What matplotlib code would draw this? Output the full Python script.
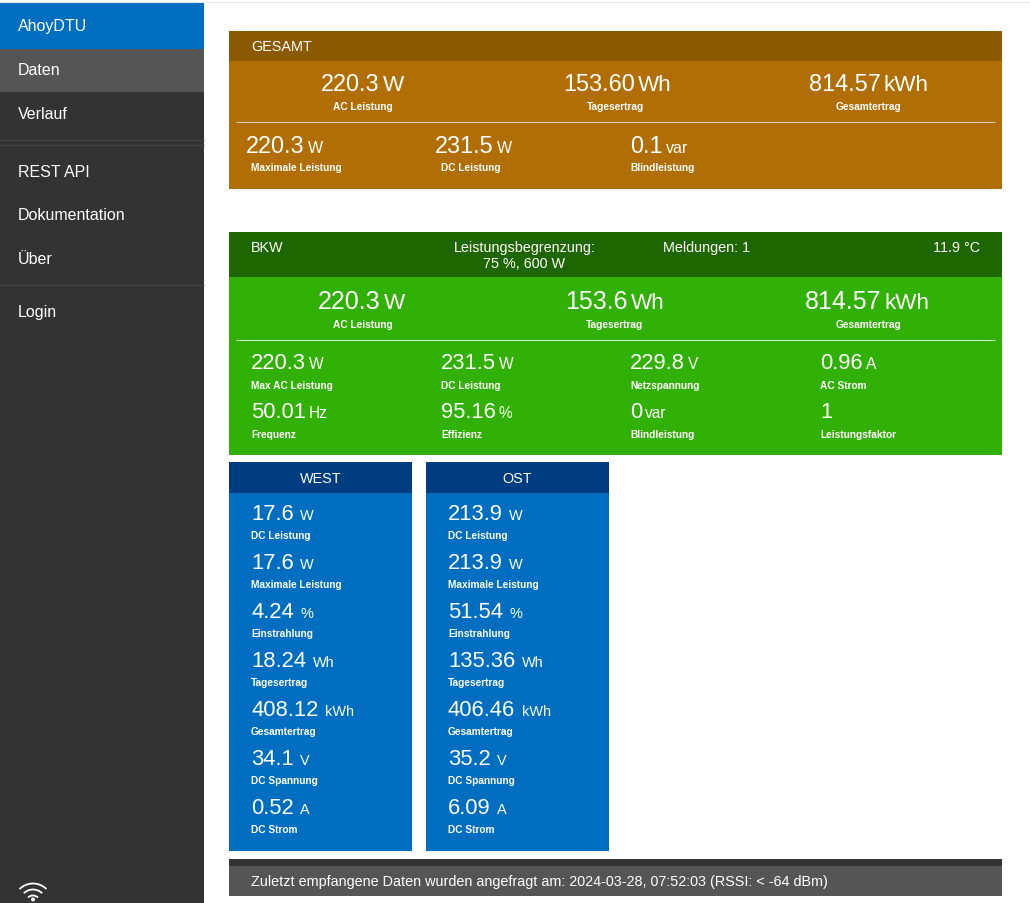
import matplotlib
matplotlib.use('Agg')
import matplotlib.pyplot as plt
from matplotlib.patches import Rectangle, Arc, Circle

plt.rcParams['font.family'] = ['Liberation Sans', 'DejaVu Sans']

nav_items = ['AhoyDTU', 'Daten', 'Verlauf', 'REST API', 'Dokumentation', 'Über', 'Login']

total_main_values = ['220.3', '153.60', '814.57']
total_main_units = ['W', 'Wh', 'kWh']
total_main_labels = ['AC Leistung', 'Tagesertrag', 'Gesamtertrag']
total_sub_values = ['220.3', '231.5', '0.1']
total_sub_units = ['W', 'W', 'var']
total_sub_labels = ['Maximale Leistung', 'DC Leistung', 'Blindleistung']

inv_main_values = ['220.3', '153.6', '814.57']
inv_main_units = ['W', 'Wh', 'kWh']
inv_sub_values = ['220.3', '231.5', '229.8', '0.96', '50.01', '95.16', '0', '1']
inv_sub_units = ['W', 'W', 'V', 'A', 'Hz', '%', 'var', '']
inv_sub_labels = ['Max AC Leistung', 'DC Leistung', 'Netzspannung', 'AC Strom',
                  'Frequenz', 'Effizienz', 'Blindleistung', 'Leistungsfaktor']

string_labels = ['DC Leistung', 'Maximale Leistung', 'Einstrahlung', 'Tagesertrag',
                 'Gesamtertrag', 'DC Spannung', 'DC Strom']
string_units = ['W', 'W', '%', 'Wh', 'kWh', 'V', 'A']
west_values = ['17.6', '17.6', '4.24', '18.24', '408.12', '34.1', '0.52']
ost_values = ['213.9', '213.9', '51.54', '135.36', '406.46', '35.2', '6.09']

footer_text = 'Zuletzt empfangene Daten wurden angefragt am: 2024-03-28, 07:52:03 (RSSI: < -64 dBm)'

WHITE = '#ffffff'
DARK = '#333333'
GREY = '#555555'
BLUE = '#006ec0'
DARK_BLUE = '#003c80'
ORANGE = '#b06e04'
DARK_ORANGE = '#8b5a00'
GREEN = '#31b105'
DARK_GREEN = '#1d6600'

HEAD = 14.35

fig = plt.figure(figsize=(10.3, 9.04), dpi=100)
ax = fig.add_axes([0, 0, 1, 1])
ax.set_xlim(0, 1030)
ax.set_ylim(904, 0)
ax.axis('off')
renderer = fig.canvas.get_renderer()


def px(size):
    # css pixels to points
    return size * 72 / 100


def box(x0, y0, x1, y1, color):
    # rectangles snap one pixel high otherwise
    ax.add_patch(Rectangle((x0, y0 + 1), x1 - x0, y1 - y0, facecolor=color, edgecolor='none'))


def hline(x0, x1, y, color):
    ax.plot([x0, x1], [y, y], color=color, lw=0.75, solid_capstyle='butt')


def label(x, y, text, size=10.1, ha='left', weight='bold'):
    ax.text(x, y, text, color=WHITE, fontsize=px(size), ha=ha, va='baseline', fontweight=weight)


def width_of(text, size):
    t = ax.text(0, 0, text, fontsize=px(size))
    w = t.get_window_extent(renderer).width
    t.remove()
    return w


def value_unit(x, y, value, unit, size, unit_size, gap, center=False):
    vw = width_of(value, size)
    if center:
        x = x - (vw + gap + width_of(unit, unit_size)) / 2
    ax.text(x, y, value, color=WHITE, fontsize=px(size), ha='left', va='baseline')
    if unit:
        ax.text(x + vw + gap, y, unit, color=WHITE, fontsize=px(unit_size), ha='left', va='baseline')


# page frame and sidebar
box(0, 0, 1030, 904, WHITE)
hline(0, 1030, 2.5, '#e6e6e6')
box(0, 3, 204, 904, DARK)
box(0, 3, 204, 49, BLUE)
box(0, 49, 204, 92, GREY)
for y in [140.5, 145.5, 285.5]:
    hline(0, 204, y, '#444444')
for name, y in zip(nav_items, [31, 75, 119, 177, 220, 264, 317]):
    label(18, y, name, size=16, weight='normal')

# wifi symbol
for r in [19, 13, 7]:
    ax.add_patch(Arc((33, 903.5), 2 * r, 2 * r, theta1=225, theta2=315, color=WHITE, lw=1.3))
ax.add_patch(Circle((33, 900.5), 2, facecolor=WHITE, edgecolor='none'))

# GESAMT card
box(229, 31, 1002, 61, DARK_ORANGE)
box(229, 61, 1002, 189, ORANGE)
label(251, 51, 'GESAMT', size=HEAD, weight='normal')
for cx, v, u in zip([362.5, 617.5, 868.5], total_main_values, total_main_units):
    value_unit(cx, 91, v, u, 23.5, 22.5, 3, center=True)
for cx, lab in zip([362.5, 615.5, 868.5], total_main_labels):
    label(cx, 109.5, lab, ha='center')
hline(236, 995, 122.5, '#d8cdb8')
for x, lx, v, u, lab in zip([246, 435, 630], [251, 441, 630], total_sub_values, total_sub_units, total_sub_labels):
    value_unit(x, 153, v, u, 23.5, 16, 3)
    label(lx, 171, lab)

# inverter card
box(229, 232, 1002, 277, DARK_GREEN)
box(229, 277, 1002, 455, GREEN)
label(251, 252, 'BKW', size=HEAD, weight='normal')
label(524.5, 252, 'Leistungsbegrenzung:', size=HEAD, ha='center', weight='normal')
label(524.5, 268, '75 %, 600 W', size=HEAD, ha='center', weight='normal')
label(663, 252, 'Meldungen: 1', size=HEAD, weight='normal')
label(980.5, 252, '11.9 °C', size=HEAD, ha='right', weight='normal')
for cx, v, u in zip([361.5, 615, 867], inv_main_values, inv_main_units):
    value_unit(cx, 309, v, u, 25, 22.5, 3, center=True)
for cx, lab in zip([363, 615, 869], total_main_labels):
    label(cx, 328, lab, ha='center')
hline(236, 995, 340.5, '#d3eccb')
inv_x = [251, 441, 630, 820]
for i, (v, u, lab) in enumerate(zip(inv_sub_values, inv_sub_units, inv_sub_labels)):
    y = 369 if i < 4 else 418
    value_unit(inv_x[i % 4], y, v, u, 22, 15.5, 3)
    label(inv_x[i % 4], y + 20, lab)

# string cards
for x0, title, values in [(229, 'WEST', west_values), (426, 'OST', ost_values)]:
    box(x0, 462, x0 + 183, 493, DARK_BLUE)
    box(x0, 493, x0 + 183, 851, BLUE)
    label(x0 + 91.5, 483, title, size=HEAD, ha='center', weight='normal')
    for i, (v, u, lab) in enumerate(zip(values, string_units, string_labels)):
        value_unit(x0 + 22, 520 + 49 * i, v, u, 22, 14.5, 6.5)
        label(x0 + 22, 539 + 49 * i, lab)

# footer
box(229, 859, 1002, 866, DARK)
box(229, 866, 1002, 896, GREY)
label(251, 886, footer_text, size=HEAD, weight='normal')

fig.savefig('out.png', dpi=100)
